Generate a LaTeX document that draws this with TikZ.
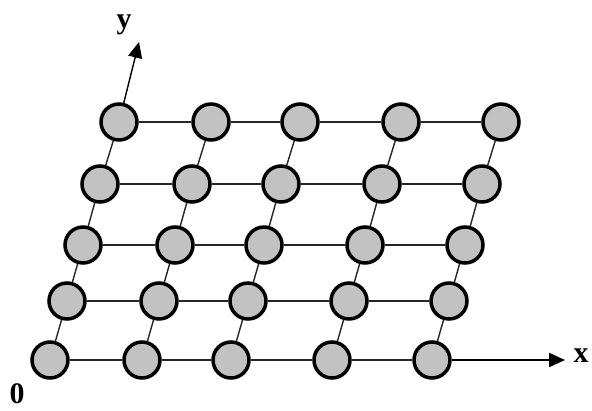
\documentclass[tikz,border=0pt]{standalone}
\usepackage{fontspec}
\setmainfont{Liberation Serif}
\usepackage{tikz}
\usetikzlibrary{arrows.meta}
\usepackage{xcolor}

\begin{document}
\begin{tikzpicture}[
    x=0.02cm, y=-0.02cm,
    site/.style={circle, draw, line width=2pt, fill=black!24,
                 minimum size=0.72cm, inner sep=0pt},
    bond/.style={line width=0.8pt, draw=black!85},
    axis/.style={-{Triangle[length=9pt, width=8pt]}, line width=0.8pt},
    lbl/.style={font=\fontsize{17}{20}\selectfont\bfseries}
  ]
  \useasboundingbox (0,0) rectangle (592,410);

  %% ---- lattice sites ----
  \foreach \r/\lx/\ly in {0/50/360, 1/67/301, 2/83/245, 3/100/184, 4/119/122}
    \foreach \c/\dx in {0/0, 1/92, 2/181, 3/282, 4/382}
      \node[site] (n\c\r) at (\lx+\dx,\ly) {};

  %% ---- bonds ----
  \foreach \a/\b in {0/1, 1/2, 2/3, 3/4}
    \foreach \k in {0,...,4} {
      \draw[bond] (n\a\k) -- (n\b\k);
      \draw[bond] (n\k\a) -- (n\k\b);
    }

  %% ---- axes ----
  \coordinate (xend) at (565,360);
  \coordinate (yend) at (139,42);
  \draw[axis] (n40) -- (xend);
  \draw[axis] (n04) -- (yend);

  \node[lbl] (xlab) at (581,356) {x};
  \node[lbl] (ylab) at (124,25)  {y};
  \node[lbl] (orig) at (17,394)  {0};

\end{tikzpicture}
\end{document}
